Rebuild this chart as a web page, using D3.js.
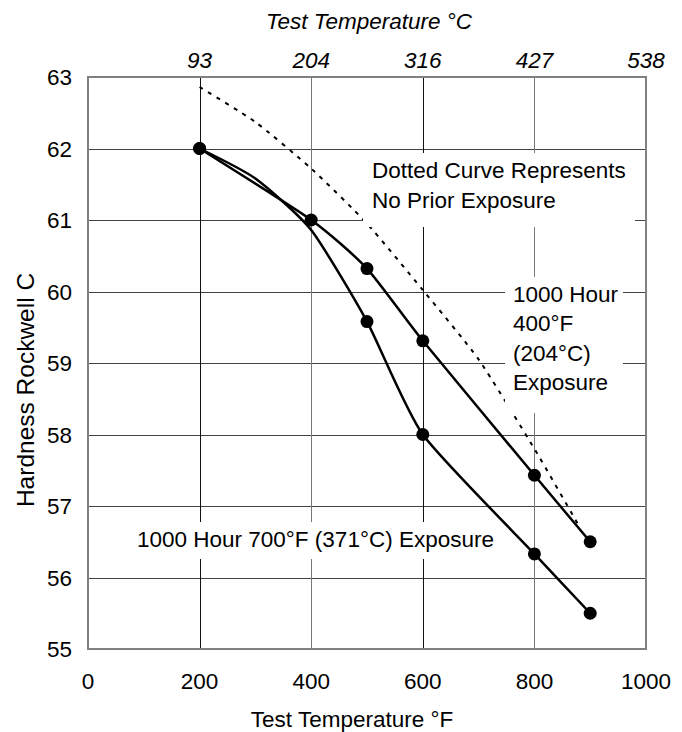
<!DOCTYPE html>
<html><head><meta charset="utf-8">
<script src="https://cdn.jsdelivr.net/npm/d3@7"></script>
<style>body{margin:0;background:#fff}svg{display:block}text{font-family:"Liberation Sans",Arial,sans-serif;fill:#000}</style>
</head><body><svg id="c" width="682" height="732"></svg>
<script>
// ---- data ----
const xTicksF = [0, 200, 400, 600, 800, 1000];
const xTicksC = ["93", "204", "316", "427", "538"];
const xTicksCPos = [200, 400, 600, 800, 1000];
const yTicks = [55, 56, 57, 58, 59, 60, 61, 62, 63];

// 1000 Hour 400°F (204°C) exposure
const exp400X = [200, 400, 500, 600, 800, 900];
const exp400Y = [62.0, 61.0, 60.32, 59.31, 57.43, 56.5];
const exp400Mark = [1, 1, 1, 1, 1, 1];

// 1000 Hour 700°F (371°C) exposure (unmarked points)
const exp700X = [200, 300, 400, 500, 600, 800, 900];
const exp700Y = [62.0, 61.58, 60.86, 59.58, 58.0, 56.33, 55.5];
const exp700Mark = [1, 0, 0, 1, 1, 1, 1];

// No prior exposure (dotted)
const noneX = [200, 300, 400, 500, 600, 700, 800, 880];
const noneY = [62.86, 62.37, 61.72, 60.95, 60.02, 59.05, 57.8, 56.72];

// ---- chart ----
const svg = d3.select("#c");
const m = {l: 88, r: 36, t: 77, b: 83};
const W = 682 - m.l - m.r, H = 732 - m.t - m.b;
const x = d3.scaleLinear().domain([0, 1000]).range([m.l, m.l + W]);
const y = d3.scaleLinear().domain([55, 63]).range([m.t + H, m.t]);

const g = svg.append("g");
// grid
g.selectAll("line.h").data(yTicks.slice(1, -1)).join("line")
  .attr("x1", m.l).attr("x2", m.l + W).attr("y1", d => Math.round(y(d)) + 0.5).attr("y2", d => Math.round(y(d)) + 0.5)
  .attr("stroke", "#444").attr("stroke-width", 1);
g.selectAll("line.v").data(xTicksF.slice(1, -1)).join("line")
  .attr("y1", m.t).attr("y2", m.t + H).attr("x1", d => Math.round(x(d)) + 0.5).attr("x2", d => Math.round(x(d)) + 0.5)
  .attr("stroke", (d, i) => i % 2 ? "#777" : "#111").attr("stroke-width", 1);

// dotted curve
const pts = (xs, ys) => xs.map((v, i) => [v, ys[i]]);
const line = d3.line().x(d => x(d[0])).y(d => y(d[1])).curve(d3.curveCardinal.tension(0.4));
g.append("path").attr("d", line(pts(noneX, noneY))).attr("fill", "none")
  .attr("stroke", "#000").attr("stroke-width", 2).attr("stroke-dasharray", "4,6");

// annotation boxes (white, hide grid)
const boxes = [
  {x0: 363, x1: 635, y0: 153, y1: 227},
  {x0: 505, x1: 623, y0: 277, y1: 413},
  {x0: 130, x1: 500, y0: 522, y1: 559}
];
g.selectAll("rect.box").data(boxes).join("rect")
  .attr("x", d => d.x0).attr("y", d => d.y0).attr("width", d => d.x1 - d.x0).attr("height", d => d.y1 - d.y0)
  .attr("fill", "#fff");

// series
[[exp400X, exp400Y, exp400Mark], [exp700X, exp700Y, exp700Mark]].forEach(([xs, ys, mk]) => {
  g.append("path").attr("d", line(pts(xs, ys))).attr("fill", "none").attr("stroke", "#000").attr("stroke-width", 2.5);
  g.selectAll(null).data(pts(xs, ys).filter((d, i) => mk[i])).join("circle")
    .attr("cx", d => x(d[0])).attr("cy", d => y(d[1])).attr("r", 6.5).attr("fill", "#000");
});

// frame
g.append("rect").attr("x", m.l).attr("y", m.t).attr("width", W).attr("height", H)
  .attr("fill", "none").attr("stroke", "#808080").attr("stroke-width", 2);

// axes labels
const fs = 22.5;
svg.selectAll("text.xt").data(xTicksF).join("text")
  .attr("x", d => x(d)).attr("y", 689).attr("text-anchor", "middle").attr("font-size", fs).text(d => d);
svg.selectAll("text.yt").data(yTicks).join("text")
  .attr("x", 72).attr("y", d => y(d) + 8).attr("text-anchor", "end").attr("font-size", fs).text(d => d);
svg.selectAll("text.ct").data(xTicksC).join("text")
  .attr("x", (d, i) => x(xTicksCPos[i])).attr("y", 68).attr("text-anchor", "middle")
  .attr("font-size", fs).attr("font-style", "italic").text(d => d);
svg.append("text").attr("x", 369).attr("y", 29).attr("text-anchor", "middle").attr("font-size", fs)
  .attr("font-style", "italic").text("Test Temperature °C");
svg.append("text").attr("x", 352).attr("y", 727).attr("text-anchor", "middle").attr("font-size", fs)
  .text("Test Temperature °F");
svg.append("text").attr("transform", `translate(34,390) rotate(-90)`).attr("text-anchor", "middle")
  .attr("font-size", 24.5).text("Hardness Rockwell C");

// annotations
const ann = [
  {x: 372, y: 178, lines: ["Dotted Curve Represents", "No Prior Exposure"], dy: 30},
  {x: 513, y: 302, lines: ["1000 Hour", "400°F", "(204°C)", "Exposure"], dy: 29.3},
  {x: 137, y: 547, lines: ["1000 Hour 700°F (371°C) Exposure"], dy: 0}
];
ann.forEach(a => {
  const t = svg.append("text").attr("font-size", fs);
  a.lines.forEach((s, i) => t.append("tspan").attr("x", a.x).attr("y", a.y + i * a.dy).text(s));
});
</script></body></html>
